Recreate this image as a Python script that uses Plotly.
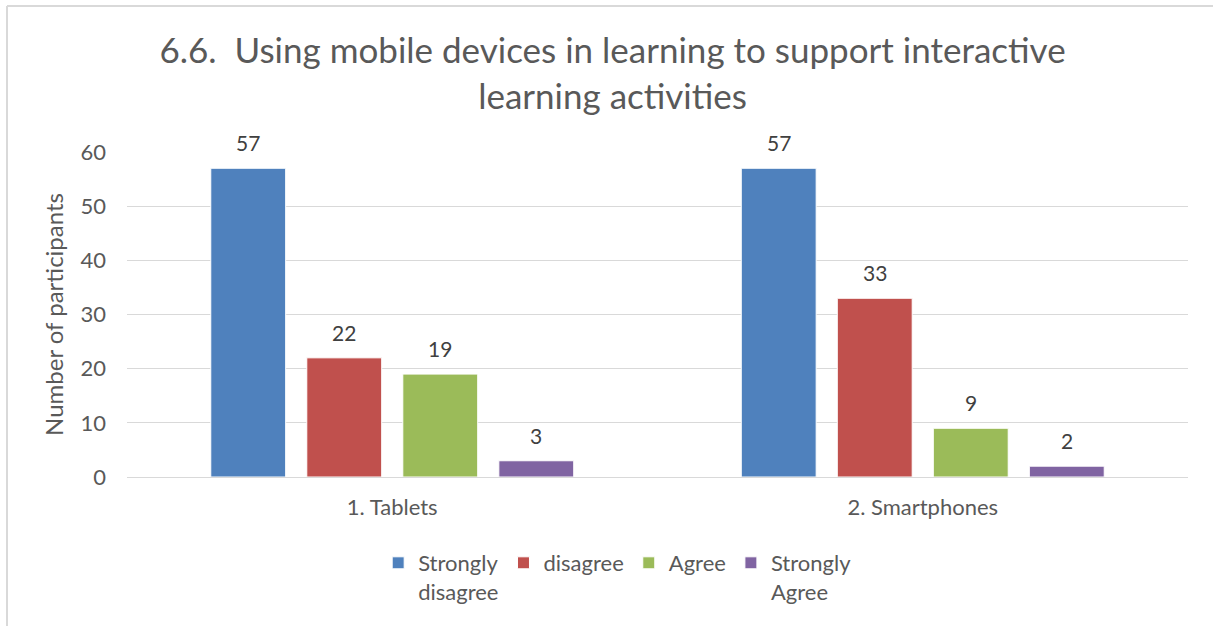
import plotly.graph_objects as go

categories = ["1. Tablets", "2. Smartphones"]
series_names = ["Strongly<br>disagree", "disagree", "Agree", "Strongly<br>Agree"]
series_values = [
    [57, 57],
    [22, 33],
    [19, 9],
    [3, 2],
]
colors = ["#4F81BD", "#C0504D", "#9BBB59", "#8064A2"]
y_ticks = [0, 10, 20, 30, 40, 50, 60]

FONT = "Lato"
TEXT = "#595959"
W, H = 1213, 626
L, R, T, B = 127, 25, 152, 149
BARGAP = 0.276

fig = go.Figure()
n = len(series_values)
slot = (1 - BARGAP) / n
for i, (name, vals, col) in enumerate(zip(series_names, series_values, colors)):
    fig.add_trace(
        go.Bar(
            x=categories,
            y=vals,
            name=name,
            marker=dict(color=col, line=dict(color="white", width=1)),
        )
    )
    # value labels above each bar
    for k, v in enumerate(vals):
        fig.add_annotation(
            x=k + (i - (n - 1) / 2) * slot,
            y=v,
            text=str(v),
            showarrow=False,
            yanchor="bottom",
            yshift=11,
            font=dict(size=21, color="#404040", family=FONT),
        )

fig.update_layout(
    width=W,
    height=H,
    paper_bgcolor="white",
    plot_bgcolor="white",
    barmode="group",
    bargap=BARGAP,
    bargroupgap=0.22,
    font=dict(family=FONT, color=TEXT),
    title=dict(
        text="6.6.  Using mobile devices in learning to support interactive<br>learning activities",
        x=0.505,
        xanchor="center",
        y=1 - 63 / H,
        yanchor="middle",
        font=dict(size=35, color=TEXT, family=FONT),
    ),
    margin=dict(l=L, r=R, t=T, b=B),
    legend=dict(
        orientation="h",
        x=0.462,
        xanchor="center",
        y=-0.2,
        yanchor="top",
        font=dict(size=22, color=TEXT),
        traceorder="normal",
        valign="top",
    ),
    showlegend=True,
)

fig.update_yaxes(
    range=[0, 60],
    tickvals=y_ticks,
    showgrid=True,
    gridcolor="#D9D9D9",
    gridwidth=1,
    zeroline=False,
    showline=False,
    tickfont=dict(size=22, color=TEXT),
    ticklabelstandoff=20,
    title=dict(text="Number of participants", font=dict(size=24, color=TEXT), standoff=10),
)
fig.update_xaxes(
    showline=True,
    linecolor="#D9D9D9",
    linewidth=1,
    tickfont=dict(size=22, color=TEXT),
    ticklabelstandoff=11,
)

# chart frame (Excel chart area border)
pw, ph = W - L - R, H - T - B
fx0 = (7 - L) / pw
fy0 = (H - B - 6) / ph
fig.add_shape(type="line", xref="paper", yref="paper",
              x0=fx0, x1=(W - L) / pw, y0=fy0, y1=fy0,
              line=dict(color="#D9D9D9", width=2))
fig.add_shape(type="line", xref="paper", yref="paper",
              x0=fx0, x1=fx0, y0=fy0, y1=-B / ph,
              line=dict(color="#D9D9D9", width=2))

fig.write_html(
    "out.html",
    config={"displayModeBar": False},
    post_script="document.body.style.margin='0';",
)
